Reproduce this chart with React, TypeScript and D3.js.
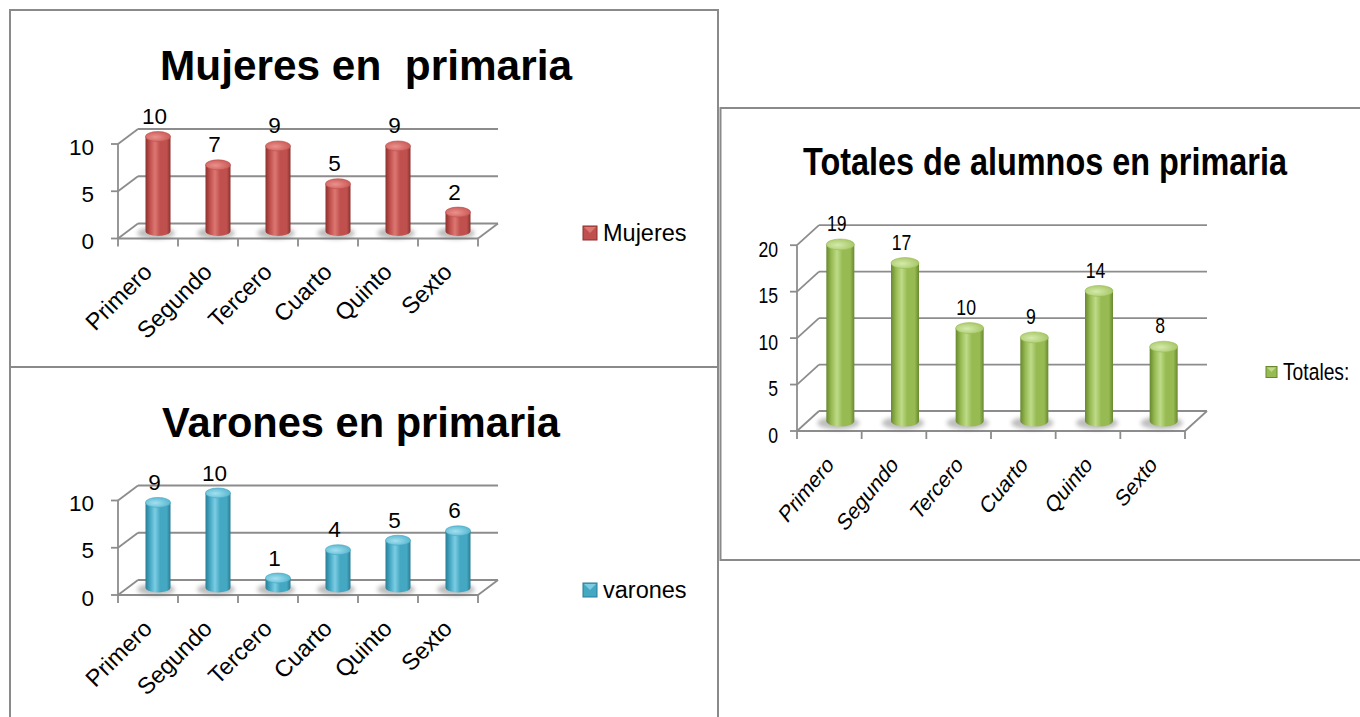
import React, { useLayoutEffect, useRef, useState } from 'react';
import * as d3 from 'd3';

const categories = ['Primero', 'Segundo', 'Tercero', 'Cuarto', 'Quinto', 'Sexto'];
const mujeres = [10, 7, 9, 5, 9, 2];
const varones = [9, 10, 1, 4, 5, 6];
const totales = [19, 17, 10, 9, 14, 8];
const smallTicks = [0, 5, 10];
const totalTicks = [0, 5, 10, 15, 20];

const FONT = "'Liberation Sans', Arial, sans-serif";
const GRID = '#8c8c8c';

type Pal = { id: string; dark: string; base: string; light: string; top: string; topLight: string };

const RED: Pal = { id: 'red', dark: '#8a312e', base: '#c0504d', light: '#dc7772', top: '#cc5c58', topLight: '#ea918d' };
const BLUE: Pal = { id: 'blue', dark: '#287c94', base: '#45a8c3', light: '#7ccde3', top: '#5ab8d1', topLight: '#a3e0f0' };
const GREEN: Pal = { id: 'green', dark: '#68882f', base: '#97ba52', light: '#bedb88', top: '#a8c868', topLight: '#d4eaab' };

function FitText({ x, y, width, size, children }: { x: number; y: number; width: number; size: number; children: string }) {
  const ref = useRef<SVGTextElement>(null);
  const [k, setK] = useState(1);
  useLayoutEffect(() => {
    if (ref.current) {
      const w = ref.current.getComputedTextLength();
      if (w > 0) setK(width / w);
    }
  }, [width, children, size]);
  return (
    <text
      ref={ref}
      transform={`translate(${x},${y}) scale(${k},1)`}
      textAnchor="middle"
      fontSize={size}
      fontWeight="bold"
      fontFamily={FONT}
      fill="#000"
      style={{ whiteSpace: 'pre' }}
    >
      {children}
    </text>
  );
}

type ChartProps = {
  values: number[];
  ticks: number[];
  max: number;
  x0: number;
  x1: number;
  y0: number;
  unit: number;
  dx: number;
  dy: number;
  barW: number;
  ry: number;
  pal: Pal;
  sx: number;
  fs: number;
  catFs: number;
  labelDy: number;
  yLabelGap: number;
  yLabelDy: number;
  title: string;
  titleX: number;
  titleY: number;
  titleSize: number;
  titleLen: number;
  legend: string;
  legX: number;
  legY: number;
  legSize: number;
  legFs: number;
};

function Defs({ pal }: { pal: Pal }) {
  return (
    <>
      <linearGradient id={`body-${pal.id}`} x1="0" x2="1" y1="0" y2="0">
        <stop offset="0%" stopColor={pal.dark} />
        <stop offset="18%" stopColor={pal.base} />
        <stop offset="38%" stopColor={pal.light} />
        <stop offset="58%" stopColor={pal.base} />
        <stop offset="85%" stopColor={pal.base} />
        <stop offset="100%" stopColor={pal.dark} />
      </linearGradient>
      <radialGradient id={`top-${pal.id}`} cx="0.4" cy="0.55" r="0.6">
        <stop offset="0%" stopColor={pal.topLight} />
        <stop offset="100%" stopColor={pal.top} />
      </radialGradient>
    </>
  );
}

function Chart(p: ChartProps) {
  const x = d3.scaleBand<string>().domain(categories).range([p.x0, p.x1]).paddingInner(0).paddingOuter(0);
  const y = d3.scaleLinear().domain([0, p.max]).range([p.y0, p.y0 - p.max * p.unit]);
  const bw = x.bandwidth();
  const baseY = p.y0 - p.dy / 2;
  const tr = (tx: number, ty: number) => `translate(${tx},${ty}) scale(${p.sx},1)`;
  const barX = (i: number) => (x(categories[i]) as number) + bw / 2 + p.dx / 2;

  return (
    <g>
      {p.ticks.map((t) => (
        <line key={`g${t}`} x1={p.x0 + p.dx} x2={p.x1 + p.dx} y1={y(t) - p.dy} y2={y(t) - p.dy} stroke={GRID} strokeWidth={1.8} />
      ))}
      {p.ticks.map((t) => (
        <line key={`d${t}`} x1={p.x0} x2={p.x0 + p.dx} y1={y(t)} y2={y(t) - p.dy} stroke={GRID} strokeWidth={1.8} />
      ))}
      <line x1={p.x0} x2={p.x0} y1={y(0)} y2={y(p.max)} stroke={GRID} strokeWidth={1.8} />
      {p.ticks.map((t) => (
        <line key={`t${t}`} x1={p.x0 - 7} x2={p.x0} y1={y(t)} y2={y(t)} stroke={GRID} strokeWidth={1.8} />
      ))}
      <line x1={p.x0} x2={p.x1} y1={p.y0} y2={p.y0} stroke={GRID} strokeWidth={1.8} />
      <line x1={p.x1} x2={p.x1 + p.dx} y1={p.y0} y2={p.y0 - p.dy} stroke={GRID} strokeWidth={1.8} />
      {d3.range(categories.length + 1).map((i) => (
        <line key={`xt${i}`} x1={p.x0 + i * bw} x2={p.x0 + i * bw} y1={p.y0} y2={p.y0 + 8} stroke={GRID} strokeWidth={1.8} />
      ))}
      {p.values.map((v, i) => (
        <ellipse key={`s${i}`} cx={barX(i) - 2} cy={baseY + 2} rx={p.barW * 0.75} ry={p.ry + 1} fill="#6e6e6e" opacity={0.45} filter="url(#blur)" />
      ))}
      {p.values.map((v, i) => {
        const cx = barX(i);
        const rx = p.barW / 2;
        const yt = baseY - v * p.unit;
        const xl = cx - rx;
        const xr = cx + rx;
        const d = `M${xl},${yt} L${xl},${baseY} A${rx},${p.ry} 0 0 0 ${xr},${baseY} L${xr},${yt} Z`;
        return (
          <g key={`b${i}`}>
            <path d={d} fill={`url(#body-${p.pal.id})`} />
            <ellipse cx={cx} cy={yt} rx={rx} ry={p.ry} fill={`url(#top-${p.pal.id})`} stroke={p.pal.base} strokeWidth={0.6} />
          </g>
        );
      })}
      {p.values.map((v, i) => {
        const yt = baseY - v * p.unit;
        return (
          <text key={`l${i}`} transform={tr(barX(i) - 3.5, yt - p.labelDy)} textAnchor="middle" dominantBaseline="central" fontSize={p.fs} fontFamily={FONT} fill="#000">
            {v}
          </text>
        );
      })}
      {p.ticks.map((t) => (
        <text key={`yl${t}`} transform={tr(p.x0 - p.yLabelGap, y(t) + p.yLabelDy)} textAnchor="end" dominantBaseline="central" fontSize={p.fs} fontFamily={FONT} fill="#000">
          {t}
        </text>
      ))}
      {categories.map((c) => {
        const cx = (x(c) as number) + bw / 2;
        return (
          <text key={`c${c}`} transform={`translate(${cx + 5.4},${p.y0 + 35}) scale(${p.sx},1) rotate(-45)`} textAnchor="end" fontSize={p.catFs} fontFamily={FONT} fill="#000">
            {c}
          </text>
        );
      })}
      <FitText x={p.titleX} y={p.titleY} width={p.titleLen} size={p.titleSize}>
        {p.title}
      </FitText>
      <g>
        <rect x={p.legX} y={p.legY - p.legSize / 2} width={p.legSize} height={p.legSize} fill={p.pal.base} stroke={p.pal.dark} strokeWidth={1} />
        <polygon
          points={`${p.legX + 1},${p.legY - p.legSize / 2 + 1} ${p.legX + p.legSize - 1},${p.legY - p.legSize / 2 + 1} ${p.legX + p.legSize / 2},${p.legY}`}
          fill={p.pal.light}
        />
        <text transform={tr(p.legX + p.legSize + 6, p.legY)} dominantBaseline="central" fontSize={p.legFs} fontFamily={FONT} fill="#000">
          {p.legend}
        </text>
      </g>
    </g>
  );
}

export default function App() {
  const leftBase = {
    ticks: smallTicks,
    max: 10,
    x0: 118,
    x1: 478,
    unit: 9.45,
    dx: 20,
    dy: 15,
    barW: 25,
    ry: 5,
    sx: 1,
    fs: 22.5,
    catFs: 23.5,
    labelDy: 20,
    yLabelGap: 24,
    yLabelDy: 3,
    titleSize: 42,
    legX: 583,
    legSize: 14,
    legFs: 23.5,
  };
  return (
    <svg width={1360} height={717} style={{ position: 'absolute', left: 0, top: 0, background: '#fff' }}>
      <defs>
        <Defs pal={RED} />
        <Defs pal={BLUE} />
        <Defs pal={GREEN} />
        <filter id="blur" x="-50%" y="-100%" width="200%" height="300%">
          <feGaussianBlur stdDeviation={2.2} />
        </filter>
      </defs>
      <rect x={0} y={0} width={1360} height={717} fill="#fff" />
      <rect x={10} y={10} width={708} height={357} fill="none" stroke="#8a8a8a" strokeWidth={2} />
      <rect x={10} y={367} width={708} height={360} fill="none" stroke="#8a8a8a" strokeWidth={2} />
      <rect x={720.5} y={108} width={700} height={452} fill="none" stroke="#8a8a8a" strokeWidth={2} />

      <Chart
        {...leftBase}
        values={mujeres}
        y0={238.5}
        pal={RED}
        title="Mujeres en  primaria"
        titleX={366}
        titleY={80}
        titleLen={412}
        legend="Mujeres"
        legY={233}
      />
      <Chart
        {...leftBase}
        values={varones}
        y0={595}
        pal={BLUE}
        title="Varones en primaria"
        titleX={361}
        titleY={437}
        titleLen={398}
        legend="varones"
        legY={590}
      />
      <Chart
        values={totales}
        ticks={totalTicks}
        max={20}
        x0={797}
        x1={1185}
        y0={431}
        unit={9.29}
        dx={22}
        dy={20}
        barW={28}
        ry={5.5}
        pal={GREEN}
        sx={0.82}
        fs={21.5}
        catFs={23.5}
        labelDy={21}
        yLabelGap={19}
        yLabelDy={4}
        title="Totales de alumnos en primaria"
        titleX={1045}
        titleY={175}
        titleSize={39}
        titleLen={484}
        legend="Totales:"
        legX={1266}
        legY={372}
        legSize={11}
        legFs={23.5}
      />
    </svg>
  );
}
